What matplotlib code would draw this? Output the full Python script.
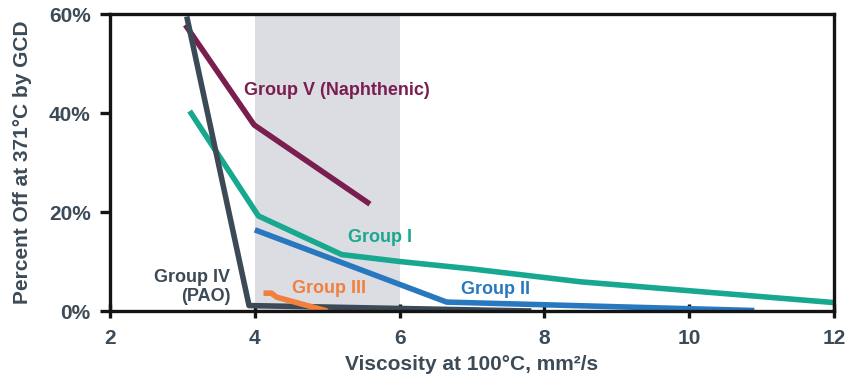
import matplotlib
matplotlib.use("Agg")
import matplotlib.pyplot as plt
from matplotlib.ticker import FuncFormatter

plt.rcParams['font.family'] = ['Liberation Sans', 'DejaVu Sans']
plt.rcParams['font.weight'] = 'bold'

# Data (viscosity mm2/s, percent off)
g5_x = [3.04, 3.99, 5.59]
g5_y = [57.8, 37.6, 21.6]

g4_x = [3.06, 3.92, 7.82]
g4_y = [59.5, 1.1, 0.0]

g1_x = [3.1, 4.05, 5.2, 6.0, 7.0, 8.5, 10.0, 12.0]
g1_y = [40.4, 19.2, 11.4, 10.0, 8.5, 5.9, 4.1, 1.7]

g2_x = [4.0, 6.65, 10.9]
g2_y = [16.4, 1.8, 0.1]

g3_x = [4.12, 4.23, 4.3, 5.0]
g3_y = [3.6, 3.6, 2.8, 0.0]

shade_x = [4, 6]
x_ticks = [2, 4, 6, 8, 10, 12]
y_ticks = [0, 20, 40, 60]

c5 = '#7a1d4f'
c4 = '#3b4a56'
c1 = '#17a88f'
c2 = '#2878c0'
c3 = '#f0803c'
ctext = '#3c4b57'

fig = plt.figure(figsize=(8.47, 3.85), dpi=100)
ax = fig.add_axes([0.1299, 0.1922, 0.8547, 0.7714])

ax.axvspan(shade_x[0], shade_x[1], color='#dcdde2', zorder=0, lw=0)

lw = 4.0
ax.plot(g5_x, g5_y, color=c5, lw=lw, solid_capstyle='butt', zorder=3)
ax.plot(g1_x, g1_y, color=c1, lw=lw, solid_capstyle='butt', zorder=3)
ax.plot(g2_x, g2_y, color=c2, lw=lw, solid_capstyle='butt', zorder=3)
ax.plot(g4_x, g4_y, color=c4, lw=lw, solid_capstyle='butt', zorder=4)
ax.plot(g3_x, g3_y, color=c3, lw=lw, solid_capstyle='butt', zorder=5)

fs = 13
ax.text(5.13, 44.6, 'Group V (Naphthenic)', color=c5, fontsize=fs, fontweight='bold', ha='center', va='center')
ax.text(5.73, 14.8, 'Group I', color=c1, fontsize=fs, fontweight='bold', ha='center', va='center')
ax.text(7.32, 4.4, 'Group II', color=c2, fontsize=fs, fontweight='bold', ha='center', va='center')
ax.text(5.02, 4.6, 'Group III', color=c3, fontsize=fs, fontweight='bold', ha='center', va='center')
ax.text(3.66, 4.85, 'Group IV\n(PAO)', color=c4, fontsize=fs, fontweight='bold', ha='right', va='center',
        multialignment='right', linespacing=1.15)

ax.set_xlim(2, 12)
ax.set_ylim(0, 60)
ax.set_xticks(x_ticks)
ax.set_yticks(y_ticks)
ax.yaxis.set_major_formatter(FuncFormatter(lambda v, p: f'{int(v)}%'))

for s in ax.spines.values():
    s.set_linewidth(2.4)
    s.set_color('#141414')
    s.set_zorder(6)

tfs = 15
ax.tick_params(axis='x', direction='inout', length=10, width=2.4, color='#141414',
               labelsize=tfs, labelcolor=ctext, pad=8)
ax.tick_params(axis='y', direction='out', length=7, width=2.4, color='#141414',
               labelsize=tfs, labelcolor=ctext, pad=7)
for lab in ax.get_xticklabels() + ax.get_yticklabels():
    lab.set_fontweight('bold')

ax.set_xlabel('Viscosity at 100°C, mm²/s', fontsize=15, fontweight='bold', color=ctext, labelpad=5)
ax.set_ylabel('Percent Off at 371°C by GCD', fontsize=15, fontweight='bold', color=ctext, labelpad=12)

fig.savefig('out.png', dpi=100)
